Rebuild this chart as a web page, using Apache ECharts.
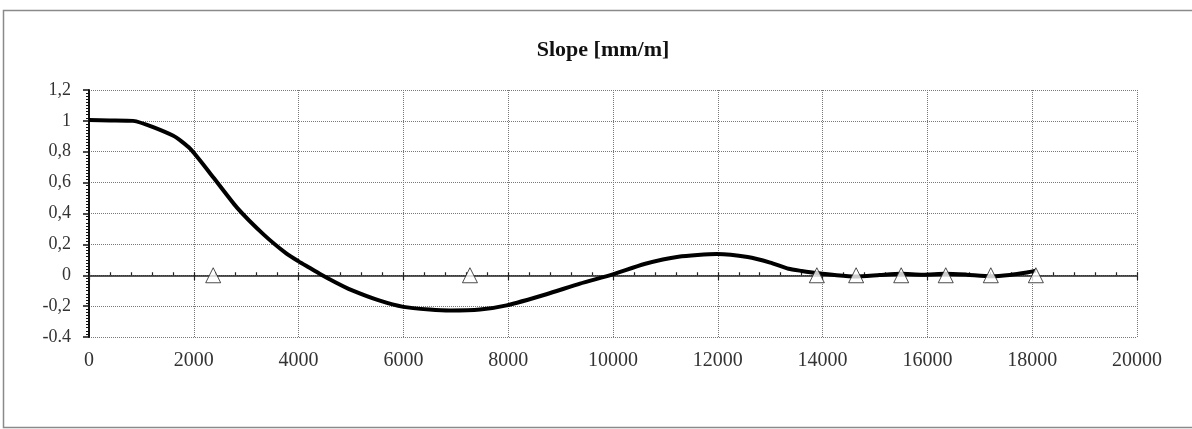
<!DOCTYPE html>
<html>
<head>
<meta charset="utf-8">
<script src="https://cdn.jsdelivr.net/npm/echarts@6/dist/echarts.min.js"></script>
<style>
html,body{margin:0;padding:0;background:#fff;overflow:hidden;}
#chart{width:1192px;height:429px;}
</style>
</head>
<body>
<div id="chart"></div>
<script>
// Slope curve (distance, slope mm/m)
const slopeX = [0, 400, 840, 1600, 1930, 2370, 2820, 3330, 3770, 4000, 4200, 4400, 4700, 5000, 5550, 6000, 6500, 6900, 7460, 7970, 8730, 9370, 9980, 10600, 11250, 11980, 12570, 13000, 13350, 13600, 13890, 14270, 14630, 15090, 15490, 15910, 16350, 16750, 17210, 17570, 17900, 18070];
const slopeY = [1.005, 1.003, 1.0, 0.905, 0.82, 0.635, 0.44, 0.265, 0.14, 0.09, 0.05, 0.01, -0.045, -0.095, -0.165, -0.205, -0.222, -0.228, -0.222, -0.195, -0.123, -0.054, 0.004, 0.073, 0.12, 0.137, 0.118, 0.082, 0.042, 0.028, 0.014, 0.0, -0.008, 0.002, 0.01, 0.004, 0.01, 0.004, -0.006, 0.002, 0.018, 0.03];
// Support markers (triangles on the zero line)
const supportX = [2370, 7270, 13890, 14640, 15500, 16350, 17210, 18070];
const supportY = [0, 0, 0, 0, 0, 0, 0, 0];
// Tick labels
const yTickValues = [1.2, 1, 0.8, 0.6, 0.4, 0.2, 0, -0.2, -0.4];
const yTickLabels = ["1,2", "1", "0,8", "0,6", "0,4", "0,2", "0", "-0,2", "-0.4"];
const xTickLabels = ["0", "2000", "4000", "6000", "8000", "10000", "12000", "14000", "16000", "18000", "20000"];

const chart = echarts.init(document.getElementById('chart'), null, {renderer: 'canvas'});
const serif = '"Liberation Serif", "DejaVu Serif", serif';

function yLabel(v) {
  for (let i = 0; i < yTickValues.length; i++) {
    if (Math.abs(yTickValues[i] - v) < 1e-6) return yTickLabels[i];
  }
  return '';
}

const gridTop = 90, gridH = 247;
const zeroH = gridH * 1.2 / 1.6;

const option = {
  backgroundColor: '#fff',
  animation: false,
  title: {
    text: 'Slope [mm/m]',
    left: 598, top: 34, textAlign: 'center',
    textStyle: {fontFamily: serif, fontWeight: 'bold', fontSize: 22, color: '#111'}
  },
  graphic: [{
    type: 'rect', silent: true, z: -1,
    shape: {x: 3.5, y: 10.5, width: 1200, height: 417},
    style: {fill: 'none', stroke: '#8a8a8a', lineWidth: 1.5}
  }],
  grid: [
    {left: 89, right: 55, top: gridTop, height: gridH, containLabel: false},
    {left: 89, right: 55, top: gridTop, height: zeroH, containLabel: false}
  ],
  xAxis: [{
    gridIndex: 0, type: 'value', min: 0, max: 20000, interval: 2000,
    axisLine: {show: false}, axisTick: {show: false},
    axisLabel: {
      margin: 14, fontFamily: serif, fontSize: 20, color: '#333',
      formatter: function (v) { return xTickLabels[Math.round(v / 2000)]; }
    },
    splitLine: {show: true, lineStyle: {type: 'dotted', color: '#777', width: 1}}
  }, {
    gridIndex: 1, type: 'value', min: 0, max: 20000, interval: 2000, position: 'bottom',
    axisLine: {show: true, onZero: false, lineStyle: {color: '#222', width: 1.5}},
    axisTick: {show: true, inside: false, length: 5, lineStyle: {color: '#222', width: 1.2}},
    axisLabel: {show: false}, splitLine: {show: false}
  }, {
    gridIndex: 1, type: 'value', min: 0, max: 20000, interval: 400, position: 'bottom',
    axisLine: {show: false, onZero: false},
    axisTick: {show: true, inside: true, length: 3, lineStyle: {color: '#222', width: 1.2}},
    axisLabel: {show: false}, splitLine: {show: false}
  }],
  yAxis: [{
    gridIndex: 0, type: 'value', min: -0.4, max: 1.2, interval: 0.2,
    axisLine: {show: true, onZero: false, lineStyle: {color: '#111', width: 2}},
    axisTick: {show: true, inside: false, length: 6, lineStyle: {color: '#111', width: 1.5}},
    minorTick: {show: true, splitNumber: 10, length: 3, lineStyle: {color: '#111', width: 1}},
    axisLabel: {
      margin: 18, fontFamily: serif, fontSize: 18, color: '#333',
      formatter: yLabel
    },
    splitLine: {show: true, lineStyle: {type: 'dotted', color: '#777', width: 1}}
  }, {
    gridIndex: 1, type: 'value', min: 0, max: 1, show: false
  }],
  series: [{
    type: 'line', xAxisIndex: 0, yAxisIndex: 0,
    data: slopeX.map((x, i) => [x, slopeY[i]]),
    showSymbol: false, smooth: 0.2,
    lineStyle: {color: '#000', width: 4},
    z: 3
  }, {
    type: 'scatter', xAxisIndex: 0, yAxisIndex: 0,
    data: supportX.map((x, i) => [x, supportY[i]]),
    symbol: 'triangle', symbolSize: [15, 15],
    itemStyle: {color: '#fff', borderColor: '#222', borderWidth: 1},
    z: 4
  }]
};
chart.setOption(option);
</script>
</body>
</html>
